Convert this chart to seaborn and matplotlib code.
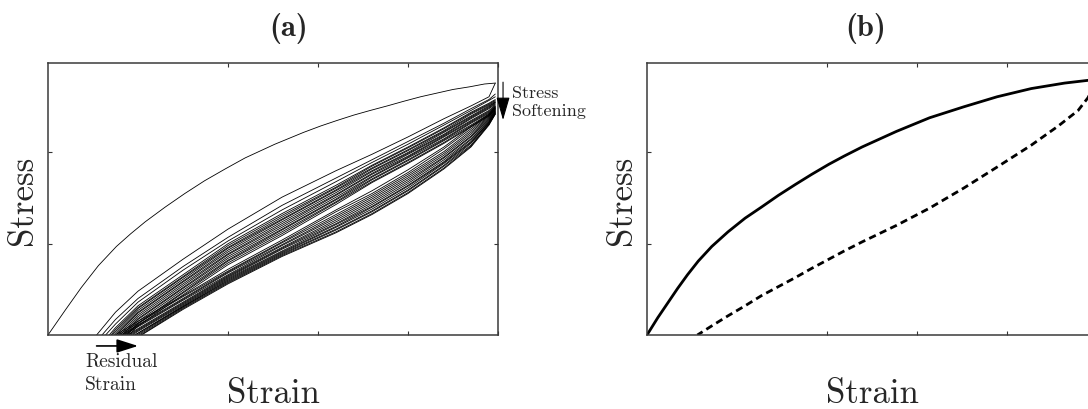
import numpy as np
import pandas as pd
import matplotlib
matplotlib.use("Agg")
import matplotlib.pyplot as plt
import seaborn as sns

sns.set_style("ticks")
plt.rcParams["font.family"] = ["cmr10", "DejaVu Serif"]
plt.rcParams["axes.formatter.use_mathtext"] = True
plt.rcParams["axes.unicode_minus"] = False

NAN = np.nan

# ---------------- panel (a): cyclic loading, Mullins effect ----------------
# primary (virgin) loading curve
primary_strain = [0.0, 0.19, 0.37, 0.56, 0.76, 0.92, 1.08, 1.30, 1.52, 1.74, 1.97,
                  2.19, 2.52, 2.84, 3.03, 3.21, 3.40, 3.58, 3.77, 3.95, 4.14,
                  4.32, 4.50, 4.69, 4.85, 4.97]
primary_stress = [0.0, 0.27, 0.52, 0.76, 0.97, 1.11, 1.24, 1.40, 1.55, 1.69, 1.82,
                  1.94, 2.09, 2.22, 2.29, 2.35, 2.41, 2.46, 2.51, 2.56, 2.61,
                  2.65, 2.69, 2.72, 2.75, 2.76]

# strain stations at which the repeated cycles are tabulated
cycle_strain = [0.75, 1.0, 1.5, 2.0, 2.6, 3.2, 3.6, 4.0, 4.4, 4.7, 4.9]
peak_strain = 4.97

# upper bundle (reloading branches): residual strain, stress at stations, peak stress
upper_residual = [0.54, 0.60, 0.64, 0.68, 0.70, 0.71, 0.73, 0.75, 0.76, 0.78, 0.80,
                  0.82, 0.83, 0.85, 0.87, 0.88, 0.90]
upper_stress = [
    [0.25, 0.48, 0.83, 1.16, 1.51, 1.80, 1.98, 2.17, 2.37, 2.51, 2.61],
    [0.17, 0.40, 0.75, 1.07, 1.42, 1.72, 1.92, 2.12, 2.32, 2.48, 2.58],
    [0.12, 0.36, 0.71, 1.03, 1.37, 1.68, 1.89, 2.09, 2.30, 2.46, 2.57],
    [0.08, 0.32, 0.66, 1.00, 1.33, 1.64, 1.86, 2.06, 2.27, 2.44, 2.54],
    [0.06, 0.30, 0.64, 0.98, 1.31, 1.62, 1.85, 2.05, 2.26, 2.43, 2.53],
    [0.04, 0.29, 0.63, 0.96, 1.29, 1.61, 1.83, 2.03, 2.24, 2.42, 2.52],
    [NAN, 0.27, 0.61, 0.95, 1.27, 1.59, 1.82, 2.02, 2.23, 2.40, 2.51],
    [NAN, 0.25, 0.59, 0.93, 1.26, 1.58, 1.80, 2.00, 2.22, 2.39, 2.50],
    [NAN, 0.24, 0.58, 0.91, 1.24, 1.56, 1.79, 1.99, 2.20, 2.38, 2.49],
    [NAN, 0.22, 0.56, 0.89, 1.22, 1.54, 1.77, 1.98, 2.19, 2.37, 2.48],
    [NAN, 0.20, 0.54, 0.88, 1.20, 1.53, 1.76, 1.96, 2.18, 2.35, 2.46],
    [NAN, 0.18, 0.52, 0.86, 1.18, 1.51, 1.74, 1.95, 2.17, 2.34, 2.45],
    [NAN, 0.17, 0.51, 0.84, 1.16, 1.49, 1.73, 1.94, 2.15, 2.33, 2.44],
    [NAN, 0.15, 0.49, 0.82, 1.15, 1.48, 1.71, 1.92, 2.14, 2.32, 2.43],
    [NAN, 0.13, 0.47, 0.81, 1.13, 1.46, 1.70, 1.91, 2.13, 2.30, 2.42],
    [NAN, 0.12, 0.46, 0.79, 1.11, 1.45, 1.68, 1.89, 2.11, 2.29, 2.41],
    [NAN, 0.10, 0.44, 0.77, 1.09, 1.43, 1.67, 1.88, 2.10, 2.28, 2.40],
]
upper_peak = [2.76, 2.64, 2.61, 2.58, 2.57, 2.56, 2.55, 2.55, 2.54, 2.53, 2.52,
              2.51, 2.50, 2.50, 2.49, 2.48, 2.47]

# lower bundle (unloading branches)
lower_residual = [0.75, 0.78, 0.81, 0.83, 0.85, 0.88, 0.90, 0.92, 0.94, 0.96,
                  0.97, 0.99, 1.01, 1.03, 1.04]
lower_stress = [
    [NAN, 0.15, 0.43, 0.72, 1.04, 1.37, 1.58, 1.81, 2.06, 2.28, 2.42],
    [NAN, 0.13, 0.42, 0.70, 1.02, 1.35, 1.55, 1.78, 2.04, 2.26, 2.41],
    [NAN, 0.11, 0.40, 0.69, 1.01, 1.32, 1.53, 1.76, 2.01, 2.24, 2.40],
    [NAN, 0.10, 0.39, 0.68, 0.99, 1.30, 1.51, 1.74, 1.99, 2.22, 2.39],
    [NAN, 0.09, 0.38, 0.66, 0.98, 1.28, 1.49, 1.72, 1.97, 2.20, 2.38],
    [NAN, 0.07, 0.36, 0.65, 0.96, 1.26, 1.47, 1.70, 1.95, 2.18, 2.37],
    [NAN, 0.06, 0.35, 0.64, 0.95, 1.24, 1.45, 1.68, 1.94, 2.17, 2.36],
    [NAN, 0.05, 0.34, 0.63, 0.94, 1.22, 1.43, 1.66, 1.92, 2.15, 2.35],
    [NAN, 0.04, 0.33, 0.62, 0.92, 1.21, 1.41, 1.64, 1.90, 2.14, 2.34],
    [NAN, 0.02, 0.32, 0.61, 0.91, 1.19, 1.40, 1.63, 1.89, 2.12, 2.33],
    [NAN, 0.02, 0.31, 0.60, 0.90, 1.18, 1.38, 1.61, 1.88, 2.11, 2.33],
    [NAN, NAN, 0.31, 0.59, 0.89, 1.16, 1.36, 1.59, 1.86, 2.10, 2.32],
    [NAN, NAN, 0.30, 0.58, 0.88, 1.15, 1.35, 1.58, 1.85, 2.08, 2.31],
    [NAN, NAN, 0.29, 0.57, 0.87, 1.13, 1.33, 1.56, 1.83, 2.07, 2.31],
    [NAN, NAN, 0.28, 0.56, 0.86, 1.12, 1.32, 1.55, 1.82, 2.06, 2.30],
]
lower_peak = [2.50, 2.49, 2.48, 2.48, 2.47, 2.46, 2.46, 2.45, 2.45, 2.44,
              2.44, 2.43, 2.43, 2.42, 2.42]

# ---------------- panel (b): single loading / unloading loop ----------------
load_strain = [0.0, 0.12, 0.23, 0.34, 0.45, 0.57, 0.72, 0.90, 1.09, 1.27, 1.46,
               1.65, 1.83, 2.02, 2.19, 2.39, 2.77, 3.14, 3.52, 3.89, 4.27, 4.64,
               4.90, 5.0]
load_stress = [0.0, 0.19, 0.35, 0.51, 0.66, 0.81, 0.97, 1.13, 1.28, 1.40, 1.53,
               1.65, 1.76, 1.87, 1.96, 2.06, 2.23, 2.38, 2.50, 2.61, 2.70, 2.76,
               2.79, 2.80]
unload_strain = [5.0, 4.90, 4.79, 4.57, 4.27, 3.89, 3.52, 3.14, 2.77, 2.39, 2.19,
                 2.02, 1.83, 1.65, 1.46, 1.27, 1.09, 0.90, 0.72, 0.56]
unload_stress = [2.80, 2.60, 2.46, 2.29, 2.08, 1.84, 1.61, 1.39, 1.20, 1.02, 0.92,
                 0.83, 0.73, 0.63, 0.53, 0.43, 0.32, 0.21, 0.10, 0.0]


def bundle_rows(tag, residual, table, peak):
    rows = []
    for i, (r, vals, p) in enumerate(zip(residual, table, peak)):
        name = f"{tag}{i}"
        rows.append((name, r, 0.0))
        for s, v in zip(cycle_strain, vals):
            if not np.isnan(v):
                rows.append((name, s, v))
        rows.append((name, peak_strain, p))
    return rows


rows = [("primary", s, v) for s, v in zip(primary_strain, primary_stress)]
rows += bundle_rows("up", upper_residual, upper_stress, upper_peak)
rows += bundle_rows("lo", lower_residual, lower_stress, lower_peak)
cycles = pd.DataFrame(rows, columns=["curve", "strain", "stress"])

W, H = 1088, 410
fig = plt.figure(figsize=(W / 100, H / 100), dpi=100)
ax_a = fig.add_axes([48 / W, 74 / H, 450 / W, 272 / H])
ax_b = fig.add_axes([647 / W, 74 / H, 450 / W, 272 / H])

sns.lineplot(data=cycles, x="strain", y="stress", units="curve", estimator=None,
             sort=False, color="black", lw=0.6, ax=ax_a)
sns.lineplot(x=load_strain, y=load_stress, sort=False, color="black", lw=2.0, ax=ax_b)
sns.lineplot(x=unload_strain, y=unload_stress, sort=False, color="black", lw=2.0,
             linestyle=(0, (2.6, 1.6)), ax=ax_b)

for ax in (ax_a, ax_b):
    ax.set_xlim(0, 5)
    ax.set_ylim(0, 2.98)
    ax.set_xticks([2, 3, 4, 5])
    ax.set_yticks([1, 2])
    ax.tick_params(direction="in", top=True, right=True, length=3, width=0.8,
                   labelbottom=False, labelleft=False, color="#333333")
    for sp in ax.spines.values():
        sp.set_linewidth(1.1)
        sp.set_color("#3a3a3a")
    ax.set_xlabel("Strain", fontsize=25)
    ax.set_ylabel("Stress", fontsize=25)
    ax.xaxis.set_label_coords(0.5, (336 - 394) / 272)
    ax.xaxis.label.set_va("center")
    ax.yaxis.label.set_va("center")

ax_a.yaxis.set_label_coords((23 - 48) / 450, 0.5)
ax_b.yaxis.set_label_coords((622 - 647) / 450, 0.5)

fig.text(289 / W, 1 - 28 / H, "(a)", ha="center", va="center", fontsize=22,
         family=["cmb10", "DejaVu Serif"], fontweight="bold")
fig.text(866 / W, 1 - 28 / H, "(b)", ha="center", va="center", fontsize=22,
         family=["cmb10", "DejaVu Serif"], fontweight="bold")

# annotations in panel (a)
ax_a.annotate("", xy=(1.0, -0.12), xytext=(0.54, -0.12), annotation_clip=False,
              arrowprops=dict(arrowstyle="-|>,head_length=1.0,head_width=0.32",
                              mutation_scale=13, color="black", lw=1.2,
                              shrinkA=0, shrinkB=0))
ax_a.text(0.41, -0.28, "Residual", fontsize=14, ha="left", va="center", clip_on=False)
ax_a.text(0.41, -0.535, "Strain", fontsize=14, ha="left", va="center", clip_on=False)

ax_a.annotate("", xy=(5.056, 2.355), xytext=(5.056, 2.77), annotation_clip=False,
              arrowprops=dict(arrowstyle="-|>,head_length=1.1,head_width=0.32",
                              mutation_scale=13, color="black", lw=0.8,
                              shrinkA=0, shrinkB=0))
ax_a.text(5.16, 2.66, "Stress", fontsize=13, ha="left", va="center", clip_on=False)
ax_a.text(5.16, 2.46, "Softening", fontsize=13, ha="left", va="center", clip_on=False)

fig.savefig("out.png", dpi=100)
